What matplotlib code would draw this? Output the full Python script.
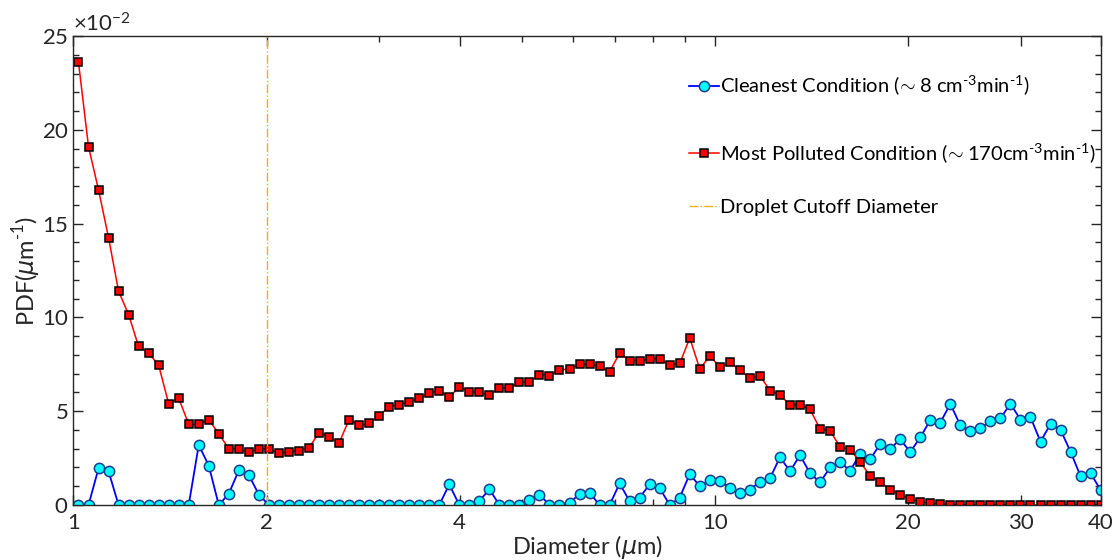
#!/usr/bin/env python3

import numpy as np
import matplotlib
matplotlib.use("Agg")
import matplotlib.pyplot as plt
from matplotlib.ticker import FixedLocator, NullFormatter, FixedFormatter

# size distribution on log bins (64 bins per decade), PDF given in units of 1e-2 per um
n_bins = 103
bins_per_decade = 64

pdf_clean = [
    0.0, 0.0, 1.95, 1.8, 0.0, 0.0, 0.0, 0.0, 0.0, 0.0,
    0.0, 0.0, 3.2, 2.1, 0.0, 0.6, 1.85, 1.6, 0.55, 0.0,
    0.0, 0.0, 0.0, 0.0, 0.0, 0.0, 0.0, 0.0, 0.0, 0.0,
    0.0, 0.0, 0.0, 0.0, 0.0, 0.0, 0.0, 1.1, 0.0, 0.0,
    0.2, 0.85, 0.0, 0.0, 0.0, 0.25, 0.55, 0.0, 0.0, 0.1,
    0.6, 0.65, 0.0, 0.0, 1.15, 0.2, 0.4, 1.1, 0.9, 0.0,
    0.4, 1.65, 1.0, 1.35, 1.3, 0.92, 0.63, 0.82, 1.24, 1.42,
    2.55, 1.8, 2.65, 1.7, 1.2, 2.0, 2.28, 1.83, 2.72, 2.44,
    3.25, 3.0, 3.5, 2.83, 3.6, 4.53, 4.39, 5.39, 4.25, 3.95,
    4.09, 4.48, 4.62, 5.4, 4.55, 4.68, 3.38, 4.32, 4.0, 2.84,
    1.53, 1.69, 0.8,
]

pdf_polluted = [
    23.6, 19.1, 16.8, 14.25, 11.4, 10.15, 8.45, 8.1, 7.45, 5.4,
    5.7, 4.3, 4.3, 4.55, 3.8, 3.0, 3.0, 2.8, 3.0, 3.0,
    2.75, 2.85, 2.9, 3.05, 3.85, 3.65, 3.3, 4.55, 4.25, 4.35,
    4.75, 5.25, 5.35, 5.5, 5.7, 5.95, 6.1, 5.75, 6.3, 6.05,
    6.0, 5.85, 6.25, 6.25, 6.55, 6.55, 6.95, 6.9, 7.2, 7.25,
    7.5, 7.5, 7.4, 7.1, 8.1, 7.7, 7.7, 7.8, 7.8, 7.45,
    7.55, 8.9, 7.25, 7.95, 7.35, 7.6, 7.2, 6.75, 6.9, 6.1,
    5.85, 5.35, 5.35, 5.1, 4.05, 3.95, 3.1, 2.95, 2.3, 1.55,
    1.25, 0.8, 0.55, 0.3, 0.18, 0.09, 0.06, 0.02, 0.0, 0.0,
    0.0, 0.0, 0.0, 0.0, 0.0, 0.0, 0.0, 0.0, 0.0, 0.0,
    0.0, 0.0, 0.0,
]

cutoff_diameter = 2.0

x_ticks = [1, 2, 4, 10, 20, 30, 40]
x_tick_labels = ["1", "2", "4", "10", "20", "30", "40"]
x_minor_ticks = [3, 5, 6, 7, 8, 9]

label_clean = r"Cleanest Condition ($\!\sim$8 cm$^{\text{-}3}$min$^{\text{-}1}$)"
label_polluted = r"Most Polluted Condition ($\!\sim$170cm$^{\text{-}3}$min$^{\text{-}1}$)"
label_cutoff = "Droplet Cutoff Diameter"


def main():
    plt.rcParams["font.family"] = ["Lato", "DejaVu Sans"]
    plt.rcParams["mathtext.fontset"] = "custom"
    plt.rcParams["mathtext.rm"] = "Lato"
    plt.rcParams["mathtext.it"] = "DejaVu Sans:italic"
    plt.rcParams["mathtext.sf"] = "Lato"
    plt.rcParams["axes.unicode_minus"] = False

    edges = 10 ** (np.arange(n_bins + 1) / bins_per_decade)
    diameter = np.sqrt(edges[:-1] * edges[1:])
    clean = np.array(pdf_clean) * 1e-2
    polluted = np.array(pdf_polluted) * 1e-2

    dark = "#262626"
    fig = plt.figure(figsize=(11.2, 5.6), dpi=100)
    ax = fig.add_axes([0.0656, 0.0982, 0.9174, 0.8375])

    h_clean, = ax.plot(diameter, clean, "-o", color="#0000ff", lw=1.3,
                       mfc="#00ffff", mec="#1c3b8f", mew=1.1, ms=7.4)
    h_poll, = ax.plot(diameter, polluted, "-s", color="#ff0000", lw=1.1,
                      mfc="#ff0000", mec="#000000", mew=1.1, ms=6.0)
    h_cut = ax.axvline(cutoff_diameter, color="#edb120", lw=1.0, ls="-.")

    ax.set_xscale("log")
    ax.set_xlim(1, 40)
    ax.set_ylim(0, 0.25)
    ax.xaxis.set_major_locator(FixedLocator(x_ticks))
    ax.xaxis.set_major_formatter(FixedFormatter(x_tick_labels))
    ax.xaxis.set_minor_locator(FixedLocator(x_minor_ticks))
    ax.xaxis.set_minor_formatter(NullFormatter())
    ax.set_yticks(np.arange(0, 0.2501, 0.05))
    ax.set_yticks(np.arange(0, 0.2501, 0.01), minor=True)
    ax.ticklabel_format(axis="y", style="sci", scilimits=(-2, -2), useMathText=True)

    ax.tick_params(which="both", direction="in", top=True, right=True,
                   colors=dark, width=1.0, labelsize=16)
    ax.tick_params(axis="x", which="major", pad=6)
    ax.tick_params(which="major", length=7)
    ax.tick_params(which="minor", length=4)
    ax.yaxis.get_offset_text().set_fontsize(16)
    ax.yaxis.get_offset_text().set_color(dark)
    for s in ax.spines.values():
        s.set_color(dark)
        s.set_linewidth(1.0)

    ax.set_xlabel(r"Diameter ($\mu$m)", fontsize=17, color=dark, labelpad=0)
    ax.set_ylabel(r"PDF($\mu$m$^{\text{-}1}$)", fontsize=17, color=dark, labelpad=-1)

    leg_opts = dict(loc="upper left", frameon=False, fontsize=14.5,
                    handlelength=1.5, handletextpad=0.05, borderpad=0.2)
    leg1 = ax.legend([h_clean, h_poll], [label_clean, label_polluted],
                     bbox_to_anchor=(0.585, 0.951), labelspacing=2.15, **leg_opts)
    ax.add_artist(leg1)
    ax.legend([h_cut], [label_cutoff], bbox_to_anchor=(0.585, 0.683), **leg_opts)

    fig.savefig("out.png", dpi=100)


if __name__ == "__main__":
    main()
